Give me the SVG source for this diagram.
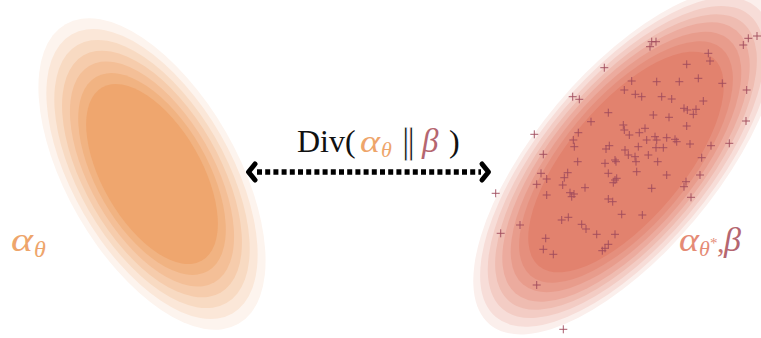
<svg xmlns="http://www.w3.org/2000/svg" width="761" height="338" viewBox="0 0 761 338">
<style>
.lbl{font-family:"Liberation Serif","DejaVu Serif",serif;}
.it{font-style:italic;}
.pm{stroke:#9e4a5c;stroke-width:1;fill:none;stroke-opacity:0.9;}
.conn{fill:none;stroke:#000;}
</style>
<defs>
<path id="p" d="M-4 0H4M0-4V4"/>
</defs>
<rect width="761" height="338" fill="#fff"/>
<g id="alpha-theta">
<g transform="translate(152,174) rotate(60)">
<ellipse rx="173" ry="85" fill="#fdf4ee"/>
<ellipse rx="161" ry="79" fill="#fbe7d8"/>
<ellipse rx="149" ry="73" fill="#f8dac2"/>
<ellipse rx="137" ry="67.3" fill="#f6ccac"/>
<ellipse rx="125" ry="61.4" fill="#f4bf97"/>
<ellipse rx="112" ry="55.5" fill="#f1b382"/>
<ellipse rx="100" ry="49.5" fill="#efa66e"/>
</g>
</g>
<g id="alpha-theta-star">
<g transform="translate(626,162) rotate(-50)">
<ellipse rx="212" ry="90" fill="#fbefec"/>
<ellipse rx="202.5" ry="86" fill="#f7ddd8"/>
<ellipse rx="191.9" ry="81.5" fill="#f3ccc4"/>
<ellipse rx="181.7" ry="77.1" fill="#efbcb1"/>
<ellipse rx="171.7" ry="72.9" fill="#ecab9e"/>
<ellipse rx="160" ry="68" fill="#e89c8c"/>
<ellipse rx="148.4" ry="63" fill="#e58f7d"/>
<ellipse rx="135.7" ry="57.6" fill="#e2826e"/>
</g>
</g>
<g id="beta-samples" class="pm">
<use href="#p" x="651.7" y="41.7"/><use href="#p" x="656" y="41.7"/><use href="#p" x="650" y="46.7"/>
<use href="#p" x="604.3" y="67.7"/><use href="#p" x="708.3" y="53.3"/><use href="#p" x="710" y="61"/>
<use href="#p" x="686.7" y="64.3"/><use href="#p" x="743.3" y="45"/><use href="#p" x="748.3" y="38.3"/>
<use href="#p" x="757" y="36"/><use href="#p" x="631.7" y="81"/><use href="#p" x="656.7" y="81.7"/>
<use href="#p" x="679.3" y="81.7"/><use href="#p" x="698.3" y="78.3"/><use href="#p" x="722.3" y="83.3"/>
<use href="#p" x="746.7" y="90"/><use href="#p" x="624.3" y="90"/><use href="#p" x="635.3" y="94.3"/>
<use href="#p" x="641.7" y="96.7"/><use href="#p" x="661.7" y="96.7"/><use href="#p" x="671.7" y="99"/>
<use href="#p" x="572.7" y="96.7"/><use href="#p" x="579.3" y="99.3"/><use href="#p" x="703.3" y="101"/>
<use href="#p" x="684" y="108.3"/><use href="#p" x="687.3" y="110"/><use href="#p" x="696" y="109.3"/>
<use href="#p" x="693.3" y="114.3"/><use href="#p" x="608.3" y="112.7"/><use href="#p" x="653.3" y="115"/>
<use href="#p" x="669" y="117.3"/><use href="#p" x="591" y="121.7"/><use href="#p" x="686.7" y="126"/>
<use href="#p" x="746" y="121"/><use href="#p" x="623.3" y="125"/><use href="#p" x="624.3" y="130"/>
<use href="#p" x="629.3" y="135"/><use href="#p" x="639.3" y="132.7"/><use href="#p" x="645" y="128.3"/>
<use href="#p" x="578.3" y="132.7"/><use href="#p" x="573.3" y="140"/><use href="#p" x="574.3" y="146.7"/>
<use href="#p" x="534.3" y="134.3"/><use href="#p" x="655" y="136.7"/><use href="#p" x="656.7" y="140"/>
<use href="#p" x="666.7" y="137.7"/><use href="#p" x="675" y="139.3"/><use href="#p" x="676.7" y="141.7"/>
<use href="#p" x="646.7" y="140"/><use href="#p" x="638.3" y="146.7"/><use href="#p" x="656" y="147.7"/>
<use href="#p" x="663.3" y="147.7"/><use href="#p" x="690" y="144"/><use href="#p" x="711" y="145.7"/>
<use href="#p" x="729.3" y="143.3"/><use href="#p" x="609.3" y="145.7"/><use href="#p" x="606" y="149"/>
<use href="#p" x="625" y="150"/><use href="#p" x="628.3" y="155"/><use href="#p" x="635" y="156.7"/>
<use href="#p" x="636" y="161.7"/><use href="#p" x="648.3" y="155"/><use href="#p" x="657.7" y="161.7"/>
<use href="#p" x="543.3" y="154.3"/><use href="#p" x="701.7" y="157.7"/><use href="#p" x="577.7" y="161.7"/>
<use href="#p" x="605" y="163.3"/><use href="#p" x="615" y="160"/><use href="#p" x="616" y="161.7"/>
<use href="#p" x="636.7" y="171.7"/><use href="#p" x="608.3" y="173.3"/><use href="#p" x="666.7" y="175"/>
<use href="#p" x="700" y="175"/><use href="#p" x="541" y="173.3"/><use href="#p" x="546.7" y="179"/>
<use href="#p" x="536.7" y="184.3"/><use href="#p" x="567.7" y="172.7"/><use href="#p" x="564.3" y="177.7"/>
<use href="#p" x="562.7" y="185"/><use href="#p" x="615" y="180"/><use href="#p" x="616.7" y="178.3"/>
<use href="#p" x="613.3" y="182.7"/><use href="#p" x="585" y="187.7"/><use href="#p" x="651.7" y="188.3"/>
<use href="#p" x="686" y="181.7"/><use href="#p" x="684" y="186.7"/><use href="#p" x="570" y="192.7"/>
<use href="#p" x="574" y="194"/><use href="#p" x="571.7" y="196.7"/><use href="#p" x="546.7" y="195"/>
<use href="#p" x="691" y="197.3"/><use href="#p" x="495.7" y="193.3"/><use href="#p" x="608.3" y="199"/>
<use href="#p" x="612.7" y="201.7"/><use href="#p" x="621.7" y="214.3"/><use href="#p" x="642.3" y="215"/>
<use href="#p" x="561.7" y="220"/><use href="#p" x="568.3" y="217.3"/><use href="#p" x="520" y="225"/>
<use href="#p" x="581.7" y="224.3"/><use href="#p" x="586" y="229"/><use href="#p" x="500.7" y="233.3"/>
<use href="#p" x="596.7" y="234.3"/><use href="#p" x="615" y="234.3"/><use href="#p" x="545.7" y="238.3"/>
<use href="#p" x="543.3" y="249.3"/><use href="#p" x="553.3" y="254.3"/><use href="#p" x="608.3" y="244.3"/>
<use href="#p" x="605" y="248.3"/><use href="#p" x="602.3" y="250.7"/><use href="#p" x="536.7" y="285"/>
<use href="#p" x="563.3" y="329.3"/>
</g>
<g id="connectors">
<line class="conn" x1="257" y1="172" x2="481" y2="172" stroke-width="5.5" stroke-dasharray="5 3.2"/>
<path class="conn" d="M255 164 L248.5 172 L255 180" stroke-width="5" stroke-linecap="round" stroke-linejoin="round"/>
<path class="conn" d="M482 164 L488.5 172 L482 180" stroke-width="5" stroke-linecap="round" stroke-linejoin="round"/>
</g>
<g id="div-label" class="lbl">
<text x="297" y="152" font-size="32" fill="#111">Div(</text>
<text x="360" y="152" font-size="32" fill="#eea56b" class="it" textLength="20" lengthAdjust="spacingAndGlyphs">α</text>
<text x="381" y="157" font-size="22" fill="#eea56b" class="it">θ</text>
<text x="400" y="153" font-size="34" fill="#111" font-family="DejaVu Serif,serif" stroke="#fff" stroke-width="1">‖</text>
<text x="422" y="152" font-size="33" fill="#b56670" class="it">β</text>
<text x="449" y="152" font-size="32" fill="#111">)</text>
</g>
<g id="label-alpha" class="lbl">
<text x="11" y="251" font-size="34" fill="#eea56b" class="it" textLength="22" lengthAdjust="spacingAndGlyphs">α</text>
<text x="34" y="257" font-size="24" fill="#eea56b" class="it">θ</text>
</g>
<g id="label-right" class="lbl">
<text x="679" y="251" font-size="34" fill="#e58b76" class="it" textLength="20" lengthAdjust="spacingAndGlyphs">α</text>
<text x="699" y="256" font-size="22" fill="#e58b76" class="it">θ</text>
<text x="710" y="248" font-size="15" fill="#e58b76">*</text>
<text x="717" y="252" font-size="30" fill="#c57370">,</text>
<text x="724" y="251" font-size="34" fill="#b56670" class="it">β</text>
</g>
</svg>
